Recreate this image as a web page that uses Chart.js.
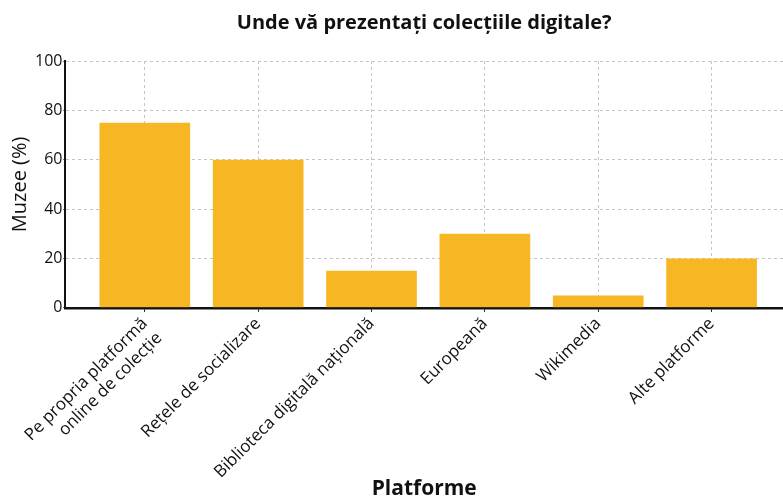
<!DOCTYPE html>
<html>
<head>
<meta charset="utf-8">
<script src="https://cdn.jsdelivr.net/npm/chart.js@4.4.0/dist/chart.umd.min.js"></script>
<style>
  html, body { margin: 0; padding: 0; background: #fff; }
  #wrap { width: 783px; height: 504px; }
</style>
</head>
<body>
<div id="wrap"><canvas id="museumChart"></canvas></div>
<script>
const platforms = [
  ['Pe propria platformă', 'online de colecție'],
  'Rețele de socializare',
  'Biblioteca digitală națională',
  'Europeană',
  'Wikimedia',
  'Alte platforme'
];
const museumShare = [75, 60, 15, 30, 5, 20];
const yTicks = [0, 20, 40, 60, 80, 100];

const fontFamily = '"Open Sans", "Noto Sans", sans-serif';

function buildChart(canvasId = 'museumChart') {
  const ctx = document.getElementById(canvasId)?.getContext('2d');
  if (!ctx) {
    console.error(`Canvas #${canvasId} not found`);
    return;
  }

  const data = museumShare.map((v, i) => ({ x: i, y: v }));

  new Chart(ctx, {
    type: 'bar',
    data: {
      datasets: [{
        label: 'Muzee (%)',
        data,
        backgroundColor: '#f7b724',
        borderWidth: 0,
        barPercentage: 0.8,
        categoryPercentage: 1.0
      }]
    },
    options: {
      responsive: true,
      maintainAspectRatio: false,
      animation: false,
      layout: { padding: { top: 8, right: 0, bottom: 2, left: 8 } },
      plugins: {
        legend: { display: false },
        tooltip: { enabled: false },
        title: {
          display: true,
          fullSize: false,
          text: 'Unde vă prezentați colecțiile digitale?',
          color: '#111',
          font: { family: fontFamily, size: 20, weight: 'bold' },
          padding: { top: 3, bottom: 26 }
        }
      },
      scales: {
        x: {
          type: 'linear',
          offset: false,
          min: -0.7,
          max: 5.63,
          z: 1,
          afterBuildTicks: (axis) => { axis.ticks = platforms.map((_, i) => ({ value: i })); },
          // rotated multi-line labels reserve more room than they use
          afterFit: (scale) => { scale.height -= 22; },
          ticks: {
            autoSkip: false,
            minRotation: 45,
            maxRotation: 45,
            padding: 2,
            color: '#111',
            font: { family: fontFamily, size: 17 },
            callback: (v) => platforms[v]
          },
          grid: {
            offset: false,
            color: '#c4c4c4',
            tickColor: '#111',
            tickLength: 4
          },
          border: { display: true, color: '#111', width: 2.5, dash: [3, 3] },
          title: {
            display: true,
            text: 'Platforme',
            color: '#111',
            font: { family: fontFamily, size: 21, weight: 'bold' },
            padding: { top: 0, bottom: 0 }
          }
        },
        y: {
          min: 0,
          max: 100,
          afterBuildTicks: (axis) => { axis.ticks = yTicks.map(v => ({ value: v })); },
          ticks: {
            color: '#111',
            padding: 1,
            font: { family: fontFamily, size: 16 }
          },
          grid: {
            color: '#c4c4c4',
            tickColor: '#111',
            tickLength: 2
          },
          border: { display: true, color: '#111', width: 2, dash: [3, 3] },
          title: {
            display: true,
            text: 'Muzee (%)',
            color: '#111',
            font: { family: fontFamily, size: 20 },
            padding: { top: 0, bottom: 2 }
          }
        }
      }
    }
  });
}

buildChart();
</script>
</body>
</html>
